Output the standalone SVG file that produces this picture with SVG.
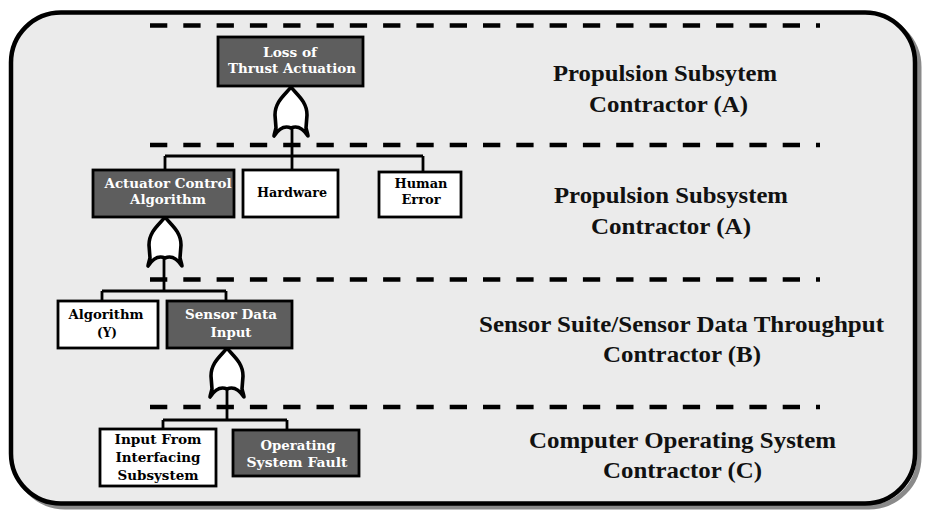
<svg xmlns="http://www.w3.org/2000/svg" width="925" height="510" viewBox="0 0 925 510">
<style>
.frame{fill:#ebebeb;stroke:#000;stroke-width:4.5}
.shadow{fill:none;stroke:#8a8a8a;stroke-width:5}
.dash{stroke:#000;stroke-width:4.5;stroke-dasharray:17.3 16;fill:none}
.dark{fill:#5e5e5e;stroke:#000;stroke-width:2.8}
.light{fill:#fff;stroke:#000;stroke-width:2.8}
.bt{font-family:'DejaVu Serif',serif;font-weight:bold;font-size:12px;text-anchor:middle}
.wt{fill:#fff}
.kt{fill:#000}
.lab{font-family:'Liberation Serif',serif;font-weight:bold;font-size:23px;fill:#111}
.gate{fill:#fff;stroke:#000;stroke-width:3.6;stroke-linejoin:round}
.wire{fill:none;stroke:#000;stroke-width:2.8}
</style>
<defs>
<path id="orgate" d="M0,0 C5,7 16,14 16,28 L15,41 C16,45 17,48 17,49 Q9,37 0,41 Q-9,37 -17,49 C-17,48 -16,45 -15,41 L-16,28 C-16,14 -5,7 0,0 Z"/>
</defs>
<rect x="15" y="17" width="904" height="490" rx="50" class="shadow"/>
<rect x="11" y="12.5" width="904" height="491" rx="50" class="frame"/>
<g id="dividers">
<line x1="150" y1="25.5" x2="820" y2="25.5" class="dash"/>
<line x1="150" y1="145" x2="820" y2="145" class="dash"/>
<line x1="150" y1="279.5" x2="820" y2="279.5" class="dash"/>
<line x1="150" y1="407" x2="820" y2="407" class="dash"/>
</g>
<g id="connectors">
<path class="wire" d="M292,128 V156 M165,156 H423 M165,156 V170 M292,156 V170 M423,156 V172"/>
<path class="wire" d="M164,258 V291 M102,291 H226 M102,291 V301 M226,291 V301"/>
<path class="wire" d="M227,388 V420 M163,420 H287 M163,420 V429 M287,420 V430"/>
</g>
<g id="gate1"><use href="#orgate" class="gate" transform="translate(291,87)"/></g>
<g id="gate2"><use href="#orgate" class="gate" transform="translate(165,217)"/></g>
<g id="gate3"><use href="#orgate" class="gate" transform="translate(227,348)"/></g>
<g id="n-loss">
<rect x="218" y="37" width="145" height="49" class="dark"/>
<text class="bt wt" x="290" y="57" textLength="54" lengthAdjust="spacingAndGlyphs">Loss of</text>
<text class="bt wt" x="292" y="73" textLength="128" lengthAdjust="spacingAndGlyphs">Thrust Actuation</text>
</g>
<g id="n-aca">
<rect x="93" y="170" width="141" height="47" class="dark"/>
<text class="bt wt" x="168" y="188" textLength="127" lengthAdjust="spacingAndGlyphs">Actuator Control</text>
<text class="bt wt" x="168" y="204" textLength="76" lengthAdjust="spacingAndGlyphs">Algorithm</text>
</g>
<g id="n-hw">
<rect x="243" y="170" width="95" height="47" class="light"/>
<text class="bt kt" x="292" y="197" textLength="70" lengthAdjust="spacingAndGlyphs">Hardware</text>
</g>
<g id="n-he">
<rect x="379" y="172" width="82" height="45" class="light"/>
<text class="bt kt" x="421" y="188" textLength="53" lengthAdjust="spacingAndGlyphs">Human</text>
<text class="bt kt" x="421" y="204" textLength="39" lengthAdjust="spacingAndGlyphs">Error</text>
</g>
<g id="n-algy">
<rect x="58" y="301" width="100" height="47" class="light"/>
<text class="bt kt" x="106" y="319" textLength="75" lengthAdjust="spacingAndGlyphs">Algorithm</text>
<text class="bt kt" x="107" y="337" textLength="20" lengthAdjust="spacingAndGlyphs">(Y)</text>
</g>
<g id="n-sdi">
<rect x="167" y="301" width="125" height="47" class="dark"/>
<text class="bt wt" x="231" y="319" textLength="92" lengthAdjust="spacingAndGlyphs">Sensor Data</text>
<text class="bt wt" x="231" y="337" textLength="41" lengthAdjust="spacingAndGlyphs">Input</text>
</g>
<g id="n-ifis">
<rect x="100" y="429" width="116" height="57" class="light"/>
<text class="bt kt" x="158" y="444" textLength="87" lengthAdjust="spacingAndGlyphs">Input From</text>
<text class="bt kt" x="158" y="462" textLength="85" lengthAdjust="spacingAndGlyphs">Interfacing</text>
<text class="bt kt" x="158" y="480" textLength="81" lengthAdjust="spacingAndGlyphs">Subsystem</text>
</g>
<g id="n-osf">
<rect x="233" y="430" width="126" height="46" class="dark"/>
<text class="bt wt" x="298" y="450" textLength="75" lengthAdjust="spacingAndGlyphs">Operating</text>
<text class="bt wt" x="297" y="467" textLength="101" lengthAdjust="spacingAndGlyphs">System Fault</text>
</g>
<g id="labels">
<text class="lab" x="553" y="81" textLength="224" lengthAdjust="spacingAndGlyphs">Propulsion Subsytem</text>
<text class="lab" x="589" y="112" textLength="159" lengthAdjust="spacingAndGlyphs">Contractor (A)</text>
<text class="lab" x="554" y="203" textLength="234" lengthAdjust="spacingAndGlyphs">Propulsion Subsystem</text>
<text class="lab" x="591" y="234" textLength="160" lengthAdjust="spacingAndGlyphs">Contractor (A)</text>
<text class="lab" x="479" y="332" textLength="405" lengthAdjust="spacingAndGlyphs">Sensor Suite/Sensor Data Throughput</text>
<text class="lab" x="603" y="362" textLength="158" lengthAdjust="spacingAndGlyphs">Contractor (B)</text>
<text class="lab" x="529" y="448" textLength="307" lengthAdjust="spacingAndGlyphs">Computer Operating System</text>
<text class="lab" x="603" y="478" textLength="159" lengthAdjust="spacingAndGlyphs">Contractor (C)</text>
</g>
</svg>
